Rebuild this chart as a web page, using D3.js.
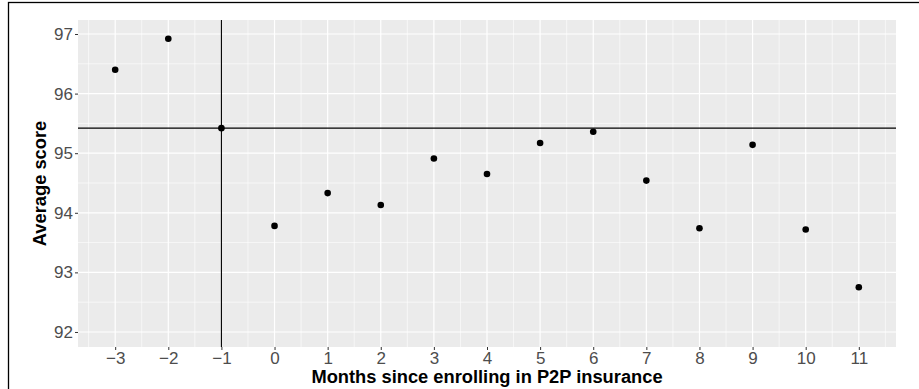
<!DOCTYPE html>
<html>
<head>
<meta charset="utf-8">
<script src="https://cdn.jsdelivr.net/npm/d3@7"></script>
<style>
  body { margin: 0; background: #ffffff; }
  text { font-family: "Liberation Sans", Arial, sans-serif; }
</style>
</head>
<body>
<div id="chart"></div>
<script>
// Data
var months = [-3, -2, -1, 0, 1, 2, 3, 4, 5, 6, 7, 8, 9, 10, 11];
var scores = [96.40, 96.92, 95.42, 93.78, 94.33, 94.13, 94.91, 94.65, 95.17, 95.36, 94.54, 93.74, 95.14, 93.72, 92.75];
var xTicks = [-3, -2, -1, 0, 1, 2, 3, 4, 5, 6, 7, 8, 9, 10, 11];
var yTicks = [92, 93, 94, 95, 96, 97];
var refMonth = -1;
var refScore = 95.42;

// SVG area
var svgWidth = 919;
var svgHeight = 389;

var chartMargin = { top: 20, right: 23, bottom: 42, left: 78 };
var chartWidth = svgWidth - chartMargin.left - chartMargin.right;
var chartHeight = svgHeight - chartMargin.top - chartMargin.bottom;

var svg = d3.select("#chart")
  .append("svg")
  .attr("width", svgWidth)
  .attr("height", svgHeight);

// outer plot border (right / bottom edges sit outside the picture)
svg.append("rect")
  .attr("x", 8.5)
  .attr("y", 2.5)
  .attr("width", svgWidth + 10)
  .attr("height", svgHeight + 10)
  .attr("fill", "none")
  .attr("stroke", "#000")
  .attr("stroke-width", 1.3);

var chartGroup = svg.append("g")
  .attr("transform", `translate(${chartMargin.left}, ${chartMargin.top})`);

// scales
var xScale = d3.scaleLinear()
  .domain([-3.7, 11.7])
  .range([0, chartWidth]);

var yScale = d3.scaleLinear()
  .domain([91.748, 97.235])
  .range([chartHeight, 0]);

// panel background
chartGroup.append("rect")
  .attr("width", chartWidth)
  .attr("height", chartHeight)
  .attr("fill", "#ebebeb");

// minor grid
var xMinor = xTicks.map(d => d - 0.5).concat([xTicks[xTicks.length - 1] + 0.5]);
var yMinor = yTicks.map(d => d - 0.5).concat([yTicks[yTicks.length - 1] + 0.5])
  .filter(d => d > yScale.domain()[0] && d < yScale.domain()[1]);

chartGroup.selectAll(".xminor")
  .data(xMinor)
  .enter()
  .append("line")
  .attr("x1", d => xScale(d))
  .attr("x2", d => xScale(d))
  .attr("y1", 0)
  .attr("y2", chartHeight)
  .attr("stroke", "#fff")
  .attr("stroke-width", 0.6);

chartGroup.selectAll(".yminor")
  .data(yMinor)
  .enter()
  .append("line")
  .attr("x1", 0)
  .attr("x2", chartWidth)
  .attr("y1", d => yScale(d))
  .attr("y2", d => yScale(d))
  .attr("stroke", "#fff")
  .attr("stroke-width", 0.6);

// major grid
chartGroup.selectAll(".xmajor")
  .data(xTicks)
  .enter()
  .append("line")
  .attr("x1", d => xScale(d))
  .attr("x2", d => xScale(d))
  .attr("y1", 0)
  .attr("y2", chartHeight)
  .attr("stroke", "#fff")
  .attr("stroke-width", 1.2);

chartGroup.selectAll(".ymajor")
  .data(yTicks)
  .enter()
  .append("line")
  .attr("x1", 0)
  .attr("x2", chartWidth)
  .attr("y1", d => yScale(d))
  .attr("y2", d => yScale(d))
  .attr("stroke", "#fff")
  .attr("stroke-width", 1.2);

// axes
var bottomAxis = d3.axisBottom(xScale)
  .tickValues(xTicks)
  .tickSize(3)
  .tickPadding(2)
  .tickFormat(d => d < 0 ? "\u2212" + Math.abs(d) : d);

var leftAxis = d3.axisLeft(yScale)
  .tickValues(yTicks)
  .tickSize(3)
  .tickPadding(2)
  .tickFormat(d3.format("d"));

var xAxisG = chartGroup.append("g")
  .attr("transform", `translate(0, ${chartHeight})`)
  .call(bottomAxis);

var yAxisG = chartGroup.append("g")
  .call(leftAxis);

[xAxisG, yAxisG].forEach(function(g) {
  g.select(".domain").remove();
  g.selectAll(".tick line").attr("stroke", "#333").attr("stroke-width", 1);
  g.selectAll(".tick text")
    .attr("fill", "#4d4d4d")
    .attr("font-size", "17px")
    .style("font-family", "'Liberation Sans', Arial, sans-serif");
});

// reference lines
chartGroup.append("line")
  .attr("x1", 0)
  .attr("x2", chartWidth)
  .attr("y1", yScale(refScore))
  .attr("y2", yScale(refScore))
  .attr("stroke", "#000")
  .attr("stroke-width", 1.1);

chartGroup.append("line")
  .attr("x1", xScale(refMonth))
  .attr("x2", xScale(refMonth))
  .attr("y1", 0)
  .attr("y2", chartHeight)
  .attr("stroke", "#000")
  .attr("stroke-width", 1.1);

// points
chartGroup.selectAll("circle")
  .data(months)
  .enter()
  .append("circle")
  .attr("cx", (d, i) => xScale(d))
  .attr("cy", (d, i) => yScale(scores[i]))
  .attr("r", 3.3)
  .attr("fill", "#000");

// axis labels
chartGroup.append("text")
  .attr("transform", `translate(${chartWidth / 2}, ${chartHeight + 35.5})`)
  .attr("text-anchor", "middle")
  .attr("font-size", "18.3px")
  .attr("font-weight", "bold")
  .attr("fill", "#000")
  .text("Months since enrolling in P2P insurance");

chartGroup.append("text")
  .attr("transform", `translate(-32, ${chartHeight / 2}) rotate(-90)`)
  .attr("text-anchor", "middle")
  .attr("font-size", "18.3px")
  .attr("font-weight", "bold")
  .attr("fill", "#000")
  .text("Average score");
</script>
</body>
</html>
